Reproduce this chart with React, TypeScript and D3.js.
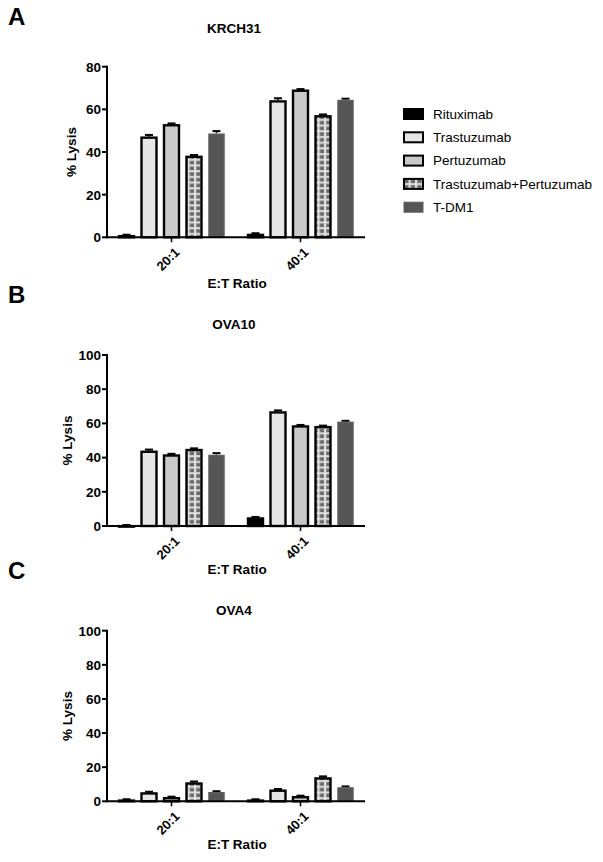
import React from "react";
import * as d3 from "d3";

const ratios = ["20:1", "40:1"];
const series = ["Rituximab", "Trastuzumab", "Pertuzumab", "Trastuzumab+Pertuzumab", "T-DM1"];
const panelLetters = ["A", "B", "C"];
const panelTitles = ["KRCH31", "OVA10", "OVA4"];
const yMaxes = [80, 100, 100];
const yTicks = [
  [0, 20, 40, 60, 80],
  [0, 20, 40, 60, 80, 100],
  [0, 20, 40, 60, 80, 100],
];
// values[ratio][series]
const krch31Values = [
  [1.0, 47.2, 53.0, 38.2, 48.8],
  [1.6, 64.2, 69.2, 57.2, 64.6],
];
const ova10Values = [
  [0.5, 44.0, 41.8, 45.0, 41.8],
  [5.0, 67.0, 58.8, 58.4, 61.2],
];
const ova4Values = [
  [1.0, 5.2, 2.4, 11.0, 5.6],
  [1.0, 6.8, 3.0, 14.0, 8.4],
];
const krch31Errors = [
  [0.2, 0.8, 0.4, 0.4, 1.0],
  [0.3, 1.0, 0.3, 0.4, 0.4],
];
const ova10Errors = [
  [0.1, 0.7, 0.4, 0.4, 0.8],
  [0.3, 0.6, 0.3, 0.3, 0.3],
];
const ova4Errors = [
  [0.2, 0.4, 0.3, 0.6, 0.3],
  [0.2, 0.4, 0.3, 0.6, 0.3],
];
const allValues = [krch31Values, ova10Values, ova4Values];
const allErrors = [krch31Errors, ova10Errors, ova4Errors];

const FONT = "'Liberation Sans', Arial, Helvetica, sans-serif";
const fills = ["#000000", "#e6e6e6", "#c9c9c9", "url(#checker)", "#555555"];
const strokes = ["#000000", "#000000", "#000000", "#000000", "#5e5e5e"];

// layout (not data)
const panelLayout = [
  { yTop: 66.7, y0: 237.3, letterY: 25, titleY: 33, xLabelY: 288 },
  { yTop: 355, y0: 526, letterY: 303, titleY: 329, xLabelY: 574 },
  { yTop: 630.7, y0: 801.3, letterY: 579, titleY: 615, xLabelY: 849 },
];
const axisX0 = 107;
const axisX1 = 365;

function Panel({ idx }: { idx: number }) {
  const L = panelLayout[idx];
  const y = d3.scaleLinear().domain([0, yMaxes[idx]]).range([L.y0, L.yTop]);
  const xGroup = d3.scaleBand<string>().domain(ratios).range([axisX0, axisX1]).padding(0);
  const xInner = d3
    .scaleBand<string>()
    .domain(series)
    .range([-53.5, 53.5])
    .paddingInner(0.244)
    .paddingOuter(0);
  const bw = xInner.bandwidth();
  const vals = allValues[idx];
  const errs = allErrors[idx];
  return (
    <g>
      <text x={8} y={L.letterY} fontFamily={FONT} fontWeight="bold" fontSize={24}>
        {panelLetters[idx]}
      </text>
      <text x={234} y={L.titleY} fontFamily={FONT} fontWeight="bold" fontSize={13.5} textAnchor="middle">
        {panelTitles[idx]}
      </text>
      {ratios.map((r, ri) => {
        const cx = (xGroup(r) as number) + xGroup.bandwidth() / 2;
        return (
          <g key={r}>
            {series.map((s, si) => {
              const v = vals[ri][si];
              const e = errs[ri][si];
              const x = cx + (xInner(s) as number);
              const yt = y(v);
              const h = L.y0 - yt;
              const isT = si === 4;
              return (
                <g key={s}>
                  <line x1={x + bw / 2} x2={x + bw / 2} y1={yt} y2={y(v + e)} stroke="#000" strokeWidth={1.5} />
                  <line x1={x + bw / 2 - 4} x2={x + bw / 2 + 4} y1={y(v + e)} y2={y(v + e)} stroke="#000" strokeWidth={2} />
                  <rect
                    x={x + 1}
                    y={yt + 1}
                    width={bw - 2}
                    height={Math.max(h - 1, 0.5)}
                    fill={fills[si]}
                    stroke={strokes[si]}
                    strokeWidth={isT ? 1.5 : 2.4}
                  />
                </g>
              );
            })}
            <line x1={cx} x2={cx} y1={L.y0} y2={L.y0 + 5} stroke="#000" strokeWidth={1.5} />
            <text
              transform={`translate(${cx + 2},${L.y0 + 9}) rotate(-45)`}
              fontFamily={FONT}
              fontWeight="bold"
              fontSize={13}
              textAnchor="end"
              dominantBaseline="hanging"
            >
              {r}
            </text>
          </g>
        );
      })}
      <line x1={axisX0} x2={axisX1} y1={L.y0} y2={L.y0} stroke="#000" strokeWidth={2} />
      <line x1={axisX0} x2={axisX0} y1={L.yTop - 1} y2={L.y0 + 1} stroke="#000" strokeWidth={2} />
      {yTicks[idx].map((t) => (
        <g key={t}>
          <line x1={axisX0 - 5} x2={axisX0} y1={y(t)} y2={y(t)} stroke="#000" strokeWidth={2} />
          <text
            x={axisX0 - 6}
            y={y(t)}
            dy="0.36em"
            fontFamily={FONT}
            fontWeight="bold"
            fontSize={13.5}
            textAnchor="end"
          >
            {t}
          </text>
        </g>
      ))}
      <text
        transform={`translate(${idx === 0 ? 76 : 72},${(L.y0 + L.yTop) / 2}) rotate(-90)`}
        fontFamily={FONT}
        fontWeight="bold"
        fontSize={13.5}
        textAnchor="middle"
      >
        % Lysis
      </text>
      <text x={237} y={L.xLabelY} fontFamily={FONT} fontWeight="bold" fontSize={13.5} textAnchor="middle">
        E:T Ratio
      </text>
    </g>
  );
}

export default function App() {
  return (
    <svg
      width={603}
      height={862}
      style={{ position: "absolute", left: 0, top: 0, background: "#fff" }}
    >
      <defs>
        <pattern id="checker" width={6.5} height={5.7} patternUnits="userSpaceOnUse">
          <rect width={6.5} height={5.7} fill="#e0e0e0" />
          <rect x={1.2} y={1.2} width={4.3} height={3.7} fill="#6a6a6a" />
        </pattern>
      </defs>
      <rect width={603} height={862} fill="#fff" />
      {[0, 1, 2].map((i) => (
        <Panel key={i} idx={i} />
      ))}
      <g>
        {series.map((s, i) => (
          <g key={s} transform={`translate(0,${114 + i * 23.3})`}>
            <rect
              x={404}
              y={-5}
              width={19}
              height={10}
              fill={fills[i]}
              stroke={strokes[i]}
              strokeWidth={i === 4 ? 1 : 2}
            />
            <text x={433} y={0} dy="0.36em" fontFamily={FONT} fontSize={13.5}>
              {s}
            </text>
          </g>
        ))}
      </g>
    </svg>
  );
}
